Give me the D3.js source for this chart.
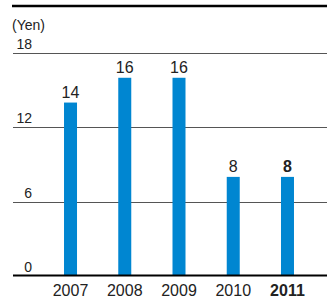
<!DOCTYPE html>
<html>
<head>
<meta charset="utf-8">
<script src="https://cdn.jsdelivr.net/npm/d3@7"></script>
<style>
  html, body { margin: 0; padding: 0; background: #fff; }
  svg { display: block; }
  text { font-family: "Liberation Sans", Arial, sans-serif; fill: #222; }
</style>
</head>
<body>
<svg id="chart" width="327" height="298"></svg>
<script>
const categories = ["2007", "2008", "2009", "2010", "2011"];
const values = [14, 16, 16, 8, 8];
const yTicks = [0, 6, 12, 18];
const unitLabel = "(Yen)";
const highlight = "2011";

const svg = d3.select("#chart");
const W = 327;

const x = d3.scalePoint().domain(categories).range([43.4, 314.6]).padding(0.5);
const y = d3.scaleLinear().domain([0, 18]).range([276, 53]);
const barW = 13;

// top rule
svg.append("line").attr("x1", 12).attr("x2", W).attr("y1", 6).attr("y2", 6)
  .attr("stroke", "#000").attr("stroke-width", 2.5);

svg.append("text").attr("x", 12).attr("y", 30).attr("font-size", 14).text(unitLabel);

// gridlines
svg.append("g").selectAll("line").data(yTicks.filter(d => d > 0)).join("line")
  .attr("x1", 13).attr("x2", W)
  .attr("y1", d => Math.round(y(d)) + 0.5).attr("y2", d => Math.round(y(d)) + 0.5)
  .attr("stroke", "#555").attr("stroke-width", 1);

// y tick labels
svg.append("g").selectAll("text").data(yTicks).join("text")
  .attr("x", 32).attr("y", d => y(d) - 4)
  .attr("text-anchor", "end").attr("font-size", 14)
  .text(d => d);

// bars
svg.append("g").selectAll("rect").data(values).join("rect")
  .attr("x", (d, i) => x(categories[i]) - barW / 2)
  .attr("y", d => y(d))
  .attr("width", barW)
  .attr("height", d => y(0) - y(d))
  .attr("fill", "#0086d1");

// zero line
svg.append("line").attr("x1", 13).attr("x2", W).attr("y1", 275.5).attr("y2", 275.5)
  .attr("stroke", "#000").attr("stroke-width", 2.2);

// value labels
svg.append("g").selectAll("text").data(values).join("text")
  .attr("x", (d, i) => x(categories[i]))
  .attr("y", d => y(d) - 4.5)
  .attr("text-anchor", "middle").attr("font-size", 16)
  .attr("font-weight", (d, i) => categories[i] === highlight ? "bold" : "normal")
  .text(d => d);

// x axis labels
svg.append("g").selectAll("text").data(categories).join("text")
  .attr("x", d => x(d))
  .attr("y", 296)
  .attr("text-anchor", "middle").attr("font-size", 16)
  .attr("font-weight", d => d === highlight ? "bold" : "normal")
  .text(d => d);
</script>
</body>
</html>
